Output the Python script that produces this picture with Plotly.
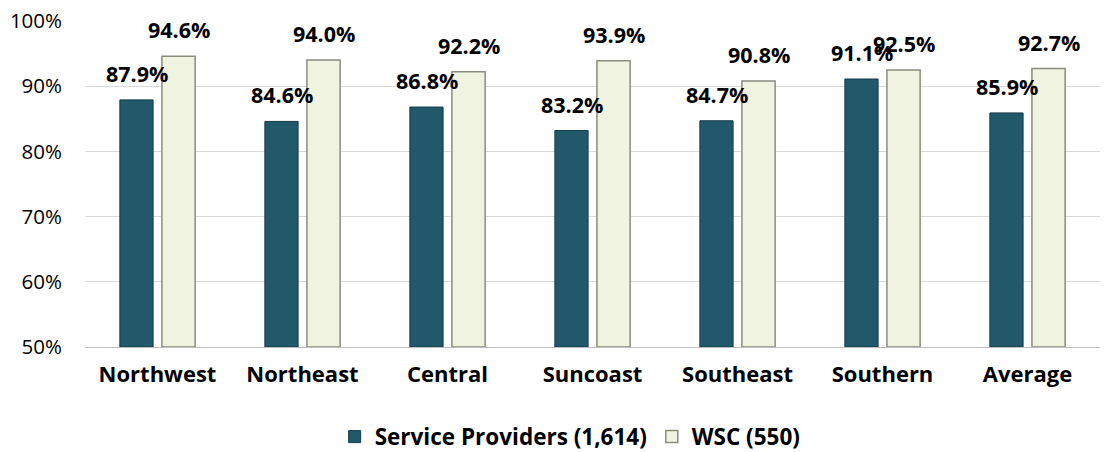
import plotly.graph_objects as go

categories = ["Northwest", "Northeast", "Central", "Suncoast", "Southeast", "Southern", "Average"]
service_providers = [87.9, 84.6, 86.8, 83.2, 84.7, 91.1, 85.9]
wsc = [94.6, 94.0, 92.2, 93.9, 90.8, 92.5, 92.7]
series_names = ["Service Providers (1,614)", "WSC (550)"]
y_ticks = [50, 60, 70, 80, 90, 100]
y_tick_labels = ["50%", "60%", "70%", "80%", "90%", "100%"]

font_family = "'Open Sans', Lato, sans-serif"
dark = "#21596b"
light = "#f1f3e1"

fig = go.Figure()
fig.add_trace(go.Bar(
    x=categories, y=[v - 50 for v in service_providers], base=50, name=series_names[0],
    marker=dict(color=dark, line=dict(color="#123a48", width=1)),
    hoverinfo="skip",
))
fig.add_trace(go.Bar(
    x=categories, y=[v - 50 for v in wsc], base=50, name=series_names[1],
    marker=dict(color=light, line=dict(color="#8a8c7e", width=1.5)),
    hoverinfo="skip",
))

annotations = []
for i, c in enumerate(categories):
    for vals, shift in ((service_providers, -21), (wsc, 21)):
        annotations.append(dict(
            x=c, y=vals[i], xref="x", yref="y", text=f"{vals[i]:.1f}%",
            showarrow=False, xshift=shift, yshift=10, yanchor="bottom",
            font=dict(family=font_family, size=21.5, color="#000000", weight="bold"),
        ))

fig.update_layout(
    width=1107, height=452,
    margin=dict(l=85, r=7, t=21, b=105, autoexpand=False),
    paper_bgcolor="white", plot_bgcolor="white",
    barmode="group", bargap=0.42, bargroupgap=0.21,
    font=dict(family=font_family, color="#000000"),
    showlegend=True,
    legend=dict(orientation="h", x=0.478, xanchor="center", y=-0.276, yanchor="middle",
                font=dict(size=22.5, weight="bold"), traceorder="normal", itemwidth=30),
    annotations=annotations,
    xaxis=dict(tickfont=dict(size=22, weight="bold"), showline=True, linecolor="#bfbfbf",
               linewidth=1, ticks="", showgrid=False, automargin=False,
               ticklabelstandoff=8),
    yaxis=dict(range=[50, 100], tickvals=y_ticks, ticktext=y_tick_labels,
               tickfont=dict(size=20.5), showgrid=True, gridcolor="#d9d9d9", gridwidth=1,
               zeroline=False, showline=False, ticks="", ticklen=0,
               ticklabelstandoff=22, automargin=False),
)

fig.write_html("out.html")
